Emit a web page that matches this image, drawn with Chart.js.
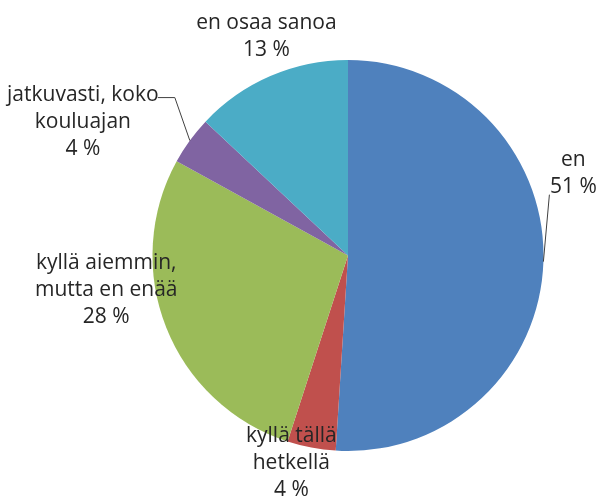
<!DOCTYPE html>
<html>
<head>
<meta charset="utf-8">
<script src="https://cdn.jsdelivr.net/npm/chart.js@4"></script>
<style>
  body { margin: 0; background: #fff; }
  canvas { display: block; }
</style>
</head>
<body>
<canvas id="pieChart" width="597" height="500"></canvas>
<script>
// Datos del gráfico
const categories = ["en", "kyllä tällä hetkellä", "kyllä aiemmin, mutta en enää", "jatkuvasti, koko kouluajan", "en osaa sanoa"];
const values = [51, 4, 28, 4, 13];
const labelLines = [
  ["en"],
  ["kyllä tällä", "hetkellä"],
  ["kyllä aiemmin,", "mutta en enää"],
  ["jatkuvasti, koko", "kouluajan"],
  ["en osaa sanoa"]
];
const colors = ["#4F81BD", "#C0504D", "#9BBB59", "#8064A2", "#4BACC6"];

// Desplazamiento de cada etiqueta respecto al borde del sector
const labelOffsets = [
  { dx: 30, dy: -88 },
  { dx: -20, dy: 15 },
  { dx: -60, dy: -37 },
  { dx: -107, dy: -19 },
  { dx: -4, dy: -40 }
];
// Líneas guía (puntos relativos al borde del sector)
const leaderLines = {
  0: [[6, -67]],
  3: [[-15, -43], [-32, -43]]
};

const labelPlugin = {
  id: "outsideLabels",
  afterDatasetsDraw(chart) {
    const ctx = chart.ctx;
    const meta = chart.getDatasetMeta(0);
    ctx.save();
    ctx.font = "21px 'Open Sans'";
    ctx.fillStyle = "#262626";
    ctx.strokeStyle = "#404040";
    ctx.lineWidth = 1;
    ctx.textAlign = "center";
    ctx.textBaseline = "middle";
    meta.data.forEach((arc, i) => {
      const p = arc.getProps(["x", "y", "startAngle", "endAngle", "outerRadius"], true);
      const mid = (p.startAngle + p.endAngle) / 2;
      const ax = p.x + Math.cos(mid) * p.outerRadius;
      const ay = p.y + Math.sin(mid) * p.outerRadius;

      if (leaderLines[i]) {
        ctx.beginPath();
        ctx.moveTo(ax, ay);
        leaderLines[i].forEach(([dx, dy]) => ctx.lineTo(ax + dx, ay + dy));
        ctx.stroke();
      }

      const lines = labelLines[i].concat([values[i] + " %"]);
      const lh = 27;
      const cx = ax + labelOffsets[i].dx;
      const cy = ay + labelOffsets[i].dy;
      const top = cy - ((lines.length - 1) * lh) / 2;
      lines.forEach((t, k) => ctx.fillText(t, cx, top + k * lh));
    });
    ctx.restore();
  }
};

const ctx = document.getElementById("pieChart").getContext("2d");
new Chart(ctx, {
  type: "pie",
  data: {
    labels: categories,
    datasets: [{
      data: values,
      backgroundColor: colors,
      borderWidth: 0
    }]
  },
  options: {
    responsive: false,
    animation: false,
    layout: {
      padding: { top: 60, bottom: 49, left: 120, right: 21 }
    },
    plugins: {
      legend: { display: false },
      tooltip: { enabled: false }
    }
  },
  plugins: [labelPlugin]
});
</script>
</body>
</html>
